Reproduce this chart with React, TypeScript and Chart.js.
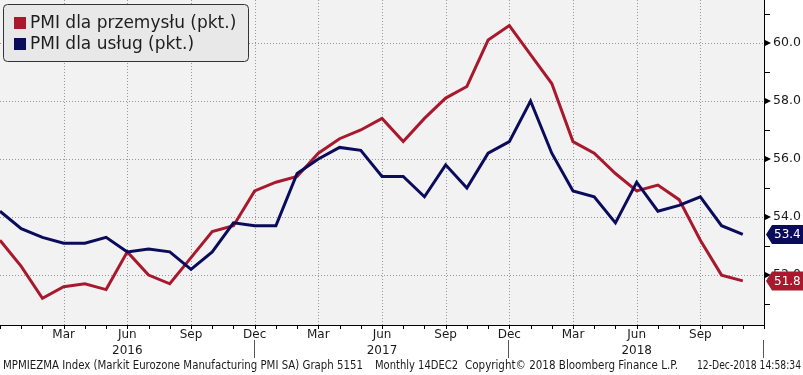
import React, { useEffect, useRef } from 'react';
import { Chart, registerables } from 'chart.js';

Chart.register(...registerables);

// Monthly observations, Dec 2015 .. Nov 2018
const months = [
  'Dec 2015', 'Jan 2016', 'Feb 2016', 'Mar 2016', 'Apr 2016', 'May 2016', 'Jun 2016', 'Jul 2016', 'Aug 2016', 'Sep 2016', 'Oct 2016', 'Nov 2016',
  'Dec 2016', 'Jan 2017', 'Feb 2017', 'Mar 2017', 'Apr 2017', 'May 2017', 'Jun 2017', 'Jul 2017', 'Aug 2017', 'Sep 2017', 'Oct 2017', 'Nov 2017',
  'Dec 2017', 'Jan 2018', 'Feb 2018', 'Mar 2018', 'Apr 2018', 'May 2018', 'Jun 2018', 'Jul 2018', 'Aug 2018', 'Sep 2018', 'Oct 2018', 'Nov 2018',
];
const manufacturing = [
  53.2, 52.3, 51.2, 51.6, 51.7, 51.5, 52.8, 52.0, 51.7, 52.6, 53.5, 53.7,
  54.9, 55.2, 55.4, 56.2, 56.7, 57.0, 57.4, 56.6, 57.4, 58.1, 58.5, 60.1,
  60.6, 59.6, 58.6, 56.6, 56.2, 55.5, 54.9, 55.1, 54.6, 53.2, 52.0, 51.8,
];
const services = [
  54.2, 53.6, 53.3, 53.1, 53.1, 53.3, 52.8, 52.9, 52.8, 52.2, 52.8, 53.8,
  53.7, 53.7, 55.5, 56.0, 56.4, 56.3, 55.4, 55.4, 54.7, 55.8, 55.0, 56.2,
  56.6, 58.0, 56.2, 54.9, 54.7, 53.8, 55.2, 54.2, 54.4, 54.7, 53.7, 53.4,
];
const seriesNames = ['PMI dla przemysłu (pkt.)', 'PMI dla usług (pkt.)'];
const monthNames = ['Jan', 'Feb', 'Mar', 'Apr', 'May', 'Jun', 'Jul', 'Aug', 'Sep', 'Oct', 'Nov', 'Dec'];
const yearLabels = ['2016', '2017', '2018'];
const yMajorTicks = [52, 54, 56, 58, 60];
const yMinorTicks = [51, 53, 55, 57, 59, 61];
const footerParts = [
  'MPMIEZMA Index (Markit Eurozone Manufacturing PMI SA) Graph 5151',
  'Monthly 14DEC2',
  'Copyright© 2018 Bloomberg Finance L.P.',
  '12-Dec-2018 14:58:34',
];

const RED = '#a8192e';
const NAVY = '#0b0b5c';
const FONT = '"DejaVu Sans", sans-serif';

function monthLabel(i: number) {
  return monthNames[(11 + i) % 12];
}

const bbgPlugin = {
  id: 'bbg',
  beforeDraw(chart: any) {
    const { ctx, chartArea: a } = chart;
    const xs = chart.scales.x;
    const ys = chart.scales.y;
    ctx.save();
    ctx.fillStyle = '#ffffff';
    ctx.fillRect(0, 0, chart.width, chart.height);
    ctx.fillStyle = '#f2f2f2';
    ctx.fillRect(a.left, a.top, a.right - a.left, a.bottom - a.top);
    ctx.strokeStyle = '#999999';
    ctx.lineWidth = 1;
    ctx.setLineDash([1, 2]);
    for (const v of yMajorTicks) {
      const py = Math.round(ys.getPixelForValue(v)) + 0.5;
      ctx.beginPath();
      ctx.moveTo(a.left, py);
      ctx.lineTo(a.right, py);
      ctx.stroke();
    }
    for (let i = 3; i < months.length; i += 3) {
      const px = Math.round(xs.getPixelForValue(i)) + 0.5;
      ctx.beginPath();
      ctx.moveTo(px, a.top);
      ctx.lineTo(px, a.bottom);
      ctx.stroke();
    }
    ctx.restore();
  },
  afterDraw(chart: any) {
    const { ctx, chartArea: a } = chart;
    const xs = chart.scales.x;
    const ys = chart.scales.y;
    ctx.save();
    // axes
    ctx.strokeStyle = '#000';
    ctx.lineWidth = 1;
    ctx.beginPath();
    ctx.moveTo(a.left, a.bottom + 0.5);
    ctx.lineTo(a.right + 1, a.bottom + 0.5);
    ctx.moveTo(a.right + 0.5, a.top);
    ctx.lineTo(a.right + 0.5, a.bottom + 4);
    ctx.stroke();
    // x ticks each month
    ctx.beginPath();
    for (let i = 0; i <= months.length; i++) {
      const px = Math.round(xs.getPixelForValue(i)) + 0.5;
      ctx.moveTo(px, a.bottom);
      ctx.lineTo(px, a.bottom + 4);
    }
    ctx.stroke();
    // year separators at each December
    ctx.strokeStyle = '#555';
    ctx.beginPath();
    for (let i = 12; i <= months.length; i += 12) {
      const px = Math.round(xs.getPixelForValue(i)) - 0.5;
      ctx.moveTo(px, a.bottom + 15);
      ctx.lineTo(px, a.bottom + 33);
    }
    ctx.stroke();
    // y minor ticks
    ctx.strokeStyle = '#000';
    ctx.beginPath();
    for (const v of yMinorTicks) {
      const py = Math.round(ys.getPixelForValue(v)) + 0.5;
      ctx.moveTo(a.right, py);
      ctx.lineTo(a.right + 6, py);
    }
    ctx.stroke();
    // y major triangles
    ctx.fillStyle = '#000';
    for (const v of yMajorTicks) {
      const py = ys.getPixelForValue(v);
      ctx.beginPath();
      ctx.moveTo(a.right, py - 3.5);
      ctx.lineTo(a.right + 7, py);
      ctx.lineTo(a.right, py + 3.5);
      ctx.closePath();
      ctx.fill();
    }
    // legend
    ctx.beginPath();
    ctx.roundRect(3.5, 4.5, 245, 57, 4);
    ctx.fillStyle = '#e8e8e8';
    ctx.fill();
    ctx.strokeStyle = '#333';
    ctx.stroke();
    const legendColors = [RED, NAVY];
    ctx.font = '17px ' + FONT;
    ctx.textBaseline = 'middle';
    ctx.textAlign = 'left';
    seriesNames.forEach((name, k) => {
      const cy = 23 + k * 21;
      ctx.fillStyle = legendColors[k];
      ctx.fillRect(14, cy - 6, 12, 12);
      ctx.fillStyle = '#1e1e1e';
      ctx.fillText(name, 30, cy + 0.5, 212);
    });
    // end value tags
    const series = [services, manufacturing];
    const tagColors = [NAVY, RED];
    ctx.font = '12px ' + FONT;
    series.forEach((s, k) => {
      const v = s[s.length - 1];
      const py = ys.getPixelForValue(v);
      const x0 = a.right + 2;
      ctx.beginPath();
      ctx.moveTo(x0, py);
      ctx.lineTo(x0 + 6, py - 9.5);
      ctx.lineTo(chart.width, py - 9.5);
      ctx.lineTo(chart.width, py + 9.5);
      ctx.lineTo(x0 + 6, py + 9.5);
      ctx.closePath();
      ctx.fillStyle = tagColors[k];
      ctx.fill();
      ctx.fillStyle = '#ffffff';
      ctx.fillText(v.toFixed(1), x0 + 8, py + 0.5, chart.width - x0 - 9);
    });
    // footer
    ctx.font = '11.5px "DejaVu Sans Condensed", "DejaVu Sans", sans-serif';
    ctx.fillStyle = '#1a1a1a';
    ctx.textBaseline = 'middle';
    const spans = [[3, 363], [375, 458], [465, 681], [697, 801]];
    footerParts.forEach((t, k) => {
      const [x1, x2] = spans[k];
      ctx.fillText(t, x1, 366, x2 - x1);
    });
    ctx.restore();
  },
};

export default function App() {
  const ref = useRef<HTMLCanvasElement>(null);
  useEffect(() => {
    document.body.style.margin = '0';
    const canvas = ref.current!;
    const chart = new Chart(canvas, {
      type: 'line',
      data: {
        datasets: [
          {
            label: seriesNames[0],
            data: manufacturing.map((v, i) => ({ x: i, y: v })),
            borderColor: RED,
            backgroundColor: RED,
            borderWidth: 3,
            pointRadius: 0,
            tension: 0,
            order: 2,
          },
          {
            label: seriesNames[1],
            data: services.map((v, i) => ({ x: i, y: v })),
            borderColor: NAVY,
            backgroundColor: NAVY,
            borderWidth: 3,
            pointRadius: 0,
            tension: 0,
            order: 1,
          },
        ],
      },
      options: {
        responsive: false,
        animation: false,
        devicePixelRatio: 1,
        layout: { padding: 0, autoPadding: false },
        plugins: {
          legend: { display: false },
          tooltip: { enabled: false },
        },
        scales: {
          x: {
            type: 'linear',
            position: 'bottom',
            min: 0,
            max: months.length,
            grid: { display: false },
            border: { display: false },
            ticks: {
              stepSize: 1,
              autoSkip: false,
              maxRotation: 0,
              minRotation: 0,
              padding: -6,
              color: '#1a1a1a',
              font: { family: FONT, size: 12, lineHeight: 16 / 12 },
              callback: (value: any) => {
                const i = Math.round(Number(value));
                if (i % 3 !== 0 || i < 3 || i > months.length - 3) return '';
                const m = monthLabel(i);
                if (m === 'Jun') return [m, yearLabels[Math.floor(i / 12)]];
                return m;
              },
            },
            afterFit: (s: any) => {
              s.height = 50;
              s.paddingLeft = 0;
              s.paddingRight = 0;
            },
          },
          y: {
            type: 'linear',
            position: 'right',
            min: 50.28,
            max: 61.48,
            grid: { display: false },
            border: { display: false },
            ticks: {
              stepSize: 1,
              autoSkip: false,
              padding: 1,
              color: '#1a1a1a',
              font: { family: FONT, size: 12.5 },
              callback: (value: any) => {
                const v = Number(value);
                const r = Math.round(v);
                if (Math.abs(v - r) > 1e-6 || !yMajorTicks.includes(r)) return '';
                return r.toFixed(1);
              },
            },
            afterFit: (s: any) => {
              s.width = 39;
              s.paddingTop = 0;
              s.paddingBottom = 0;
            },
          },
        },
      },
      plugins: [bbgPlugin],
    } as any);
    return () => chart.destroy();
  }, []);
  return (
    <div style={{ position: 'fixed', left: 0, top: 0, width: 803, height: 375 }}>
      <canvas ref={ref} width={803} height={375} />
    </div>
  );
}
